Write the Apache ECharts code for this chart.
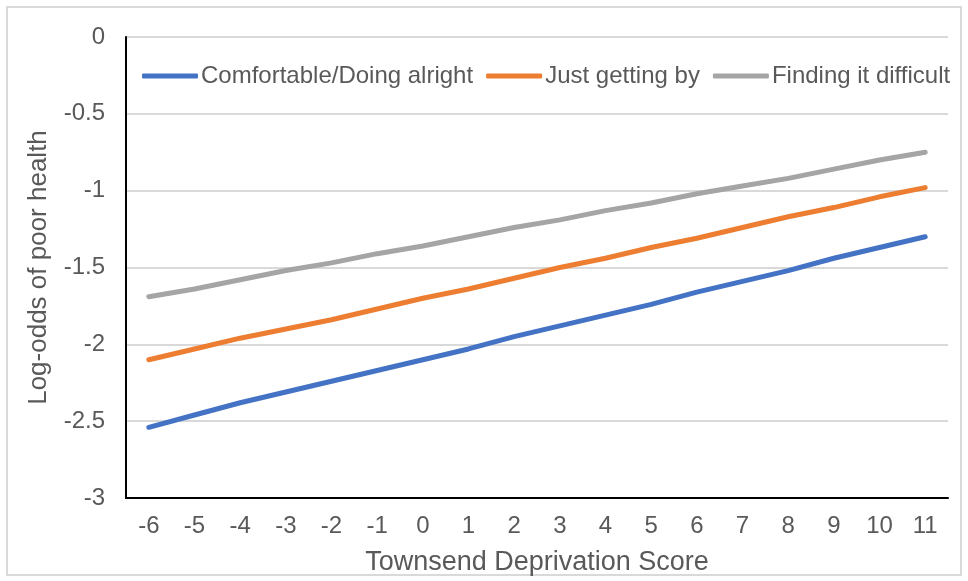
<!DOCTYPE html>
<html>
<head>
<meta charset="utf-8">
<script src="https://cdn.jsdelivr.net/npm/echarts@6/dist/echarts.min.js"></script>
<style>
  html, body { margin: 0; padding: 0; background: #fff; }
  #chart { width: 968px; height: 581px; }
</style>
</head>
<body>
<div id="chart"></div>
<script>
// Townsend deprivation score categories
const scores = ['-6','-5','-4','-3','-2','-1','0','1','2','3','4','5','6','7','8','9','10','11'];

// Predicted log-odds of poor health by financial situation
const comfortable = [-2.54,-2.46,-2.38,-2.31,-2.24,-2.17,-2.10,-2.03,-1.95,-1.88,-1.81,-1.74,-1.66,-1.59,-1.52,-1.44,-1.37,-1.30];
const gettingBy   = [-2.10,-2.03,-1.96,-1.90,-1.84,-1.77,-1.70,-1.64,-1.57,-1.50,-1.44,-1.37,-1.31,-1.24,-1.17,-1.11,-1.04,-0.98];
const difficult   = [-1.69,-1.64,-1.58,-1.52,-1.47,-1.41,-1.36,-1.30,-1.24,-1.19,-1.13,-1.08,-1.02,-0.97,-0.92,-0.86,-0.80,-0.75];

const seriesNames = ['Comfortable/Doing alright', 'Just getting by', 'Finding it difficult'];
const colors = ['#4472C4', '#ED7D31', '#A5A5A5'];

const textColor = '#595959';
const fontFamily = 'Liberation Sans, Arial, sans-serif';

const chart = echarts.init(document.getElementById('chart'), null, { renderer: 'canvas' });

function lineSeries(name, data, color) {
  return {
    name: name,
    type: 'line',
    data: data,
    symbol: 'none',
    smooth: false,
    lineStyle: { color: color, width: 5, cap: 'round', join: 'round' },
    itemStyle: { color: color },
    z: 3
  };
}

chart.setOption({
  animation: false,
  color: colors,
  textStyle: { fontFamily: fontFamily },
  graphic: [{
    type: 'rect',
    shape: { x: 7, y: 7, width: 954, height: 568 },
    style: { fill: 'none', stroke: '#d9d9d9', lineWidth: 2 },
    silent: true
  }],
  legend: {
    left: 137,
    top: 59,
    itemWidth: 56,
    itemHeight: 5,
    itemGap: 13,
    icon: 'roundRect',
    textStyle: { color: textColor, fontSize: 24, fontFamily: fontFamily, padding: [0, 0, 0, -2] },
    data: seriesNames
  },
  grid: { left: 126, right: 20, top: 37, bottom: 83, containLabel: false },
  xAxis: {
    type: 'category',
    data: scores,
    boundaryGap: true,
    name: 'Townsend Deprivation Score',
    nameLocation: 'middle',
    nameGap: 51,
    nameTextStyle: { color: textColor, fontSize: 27, fontFamily: fontFamily },
    axisLine: { show: true, onZero: false, lineStyle: { color: '#000', width: 2 } },
    axisTick: { show: false },
    axisLabel: { color: textColor, fontSize: 24, margin: 16, interval: 0 },
    splitLine: { show: false }
  },
  yAxis: {
    type: 'value',
    min: -3,
    max: 0,
    interval: 0.5,
    name: 'Log-odds of poor health',
    nameLocation: 'middle',
    nameGap: 74,
    nameRotate: 90,
    nameTextStyle: { color: textColor, fontSize: 26, fontFamily: fontFamily },
    axisLine: { show: true, onZero: false, lineStyle: { color: '#000', width: 2 } },
    axisTick: { show: false },
    axisLabel: { color: textColor, fontSize: 24, margin: 21 },
    splitLine: { show: true, lineStyle: { color: '#d9d9d9', width: 2 } }
  },
  series: [
    lineSeries(seriesNames[0], comfortable, colors[0]),
    lineSeries(seriesNames[1], gettingBy, colors[1]),
    lineSeries(seriesNames[2], difficult, colors[2])
  ]
});
</script>
</body>
</html>
